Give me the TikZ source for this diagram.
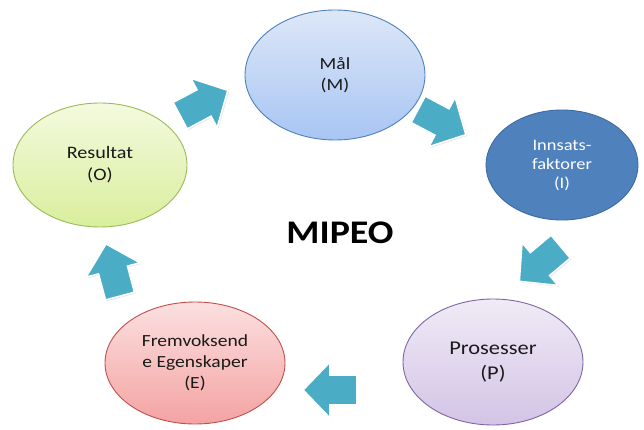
\documentclass[tikz,border=0pt]{standalone}
\usepackage{fontspec}
\setmainfont{Carlito}
\newfontfamily\labfont[FakeStretch=1.15]{Carlito}
\usetikzlibrary{shapes.geometric,shadows}
\definecolor{arrowteal}{HTML}{4BACC6}
\definecolor{blueedge}{HTML}{4F81BD}
\definecolor{bluetop}{HTML}{DDE7F8}
\definecolor{bluebot}{HTML}{A8C5F3}
\definecolor{darkblue}{HTML}{4F81BD}
\definecolor{darkblueedge}{HTML}{3D6BA3}
\definecolor{purpletop}{HTML}{F0EBF6}
\definecolor{purplebot}{HTML}{D3C4E6}
\definecolor{purpleedge}{HTML}{8064A2}
\definecolor{redtop}{HTML}{FCE0E0}
\definecolor{redbot}{HTML}{F3A3A2}
\definecolor{rededge}{HTML}{C0504D}
\definecolor{greentop}{HTML}{F4FADF}
\definecolor{greenbot}{HTML}{D9EE9C}
\definecolor{greenedge}{HTML}{9BBB59}
\definecolor{labtext}{HTML}{1A1A1A}
\tikzset{
  phase/.style={ellipse, line width=0.9pt, align=center, inner sep=0pt,
    text=labtext},
  labsize/.style 2 args={font=\labfont\fontsize{#1}{#2}\selectfont},
  blockarrow/.pic={
    \fill[arrowteal, draw=white, line width=1.6pt,
          drop shadow={opacity=0.22, shadow xshift=1.2pt, shadow yshift=-1.2pt}]
      (-27,-15) -- (0,-15) -- (0,-28) -- (27,0) -- (0,28) -- (0,15) -- (-27,15) -- cycle;
  }
}
\begin{document}
\begin{tikzpicture}[x=1pt,y=1pt]
\useasboundingbox (0,0) rectangle (644,429);
\fill[white] (0,0) rectangle (644,429);

% the five phases of the cycle
\node[phase, minimum width=180pt, minimum height=130pt, draw=blueedge,
      top color=bluetop, bottom color=bluebot, labsize={17}{21.5}] (M) at (335,354) {Mål\\(M)};
\node[phase, minimum width=152pt, minimum height=110pt, draw=darkblueedge,
      fill=darkblue, text=white, labsize={16}{19}] (I) at (562,264)
      {Innsats-\\faktorer\\(I)};
\node[phase, minimum width=180pt, minimum height=126pt, draw=purpleedge,
      top color=purpletop, bottom color=purplebot, labsize={19.5}{25}] (P) at (493,67)
      {Prosesser\\(P)};
\node[phase, minimum width=180pt, minimum height=122pt, draw=rededge,
      top color=redtop, bottom color=redbot, labsize={17}{21}] (E) at (195,66)
      {Fremvoksend\\e Egenskaper\\(E)};
\node[phase, minimum width=174pt, minimum height=124pt, draw=greenedge,
      top color=greentop, bottom color=greenbot, labsize={17.5}{22}] (O) at (100,264)
      {Resultat\\(O)};

% title in the middle
\node[font=\labfont\bfseries\fontsize{33}{36}\selectfont, text=black] (title) at (340,196) {MIPEO};

% block arrows between the phases
\coordinate (aOM) at (204,326);
\coordinate (aMI) at (442,307);
\coordinate (aIP) at (540,165);
\coordinate (aPE) at (330,39);
\coordinate (aEO) at (113,159);
\pic[rotate=28] at (aOM) {blockarrow};
\pic[rotate=-28] at (aMI) {blockarrow};
\pic[rotate=-140] at (aIP) {blockarrow};
\pic[rotate=180] at (aPE) {blockarrow};
\pic[rotate=105] at (aEO) {blockarrow};
\end{tikzpicture}
\end{document}
